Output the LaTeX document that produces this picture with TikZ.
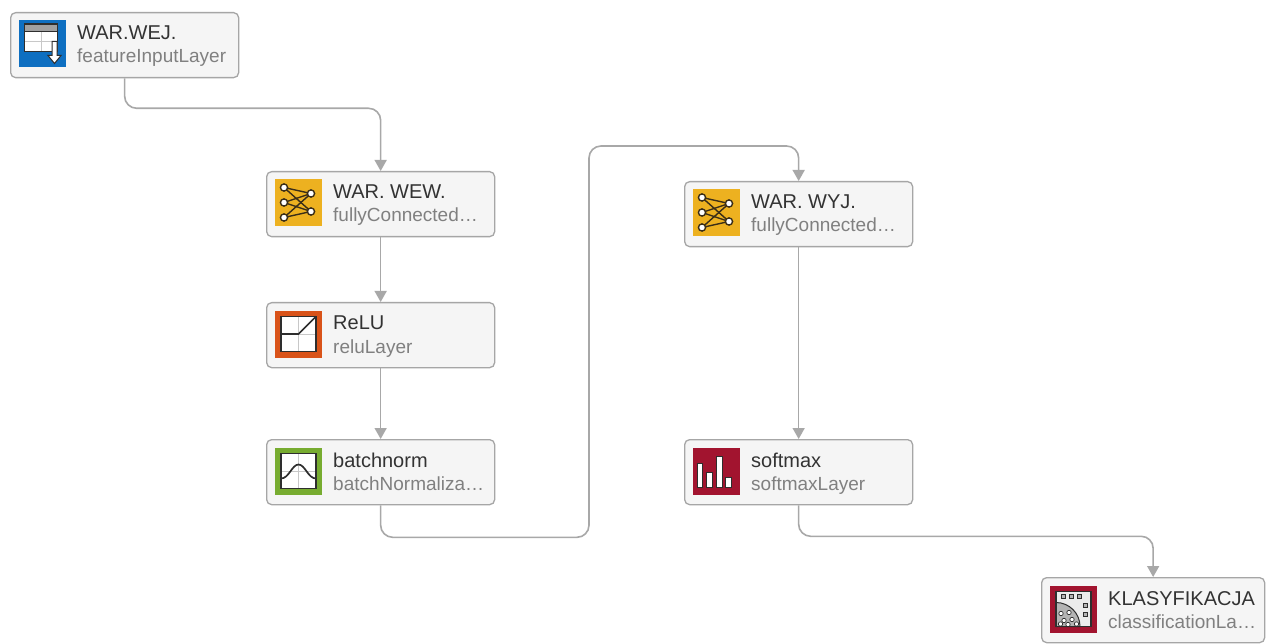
\documentclass[tikz,border=0pt]{standalone}
\usepackage{fontspec}
\setmainfont{Liberation Sans}
\usetikzlibrary{arrows.meta}
\definecolor{boxfill}{HTML}{F5F5F5}
\definecolor{boxline}{HTML}{A6A6A6}
\definecolor{connc}{HTML}{A8A8A8}
\definecolor{titlec}{HTML}{333333}
\definecolor{subc}{HTML}{808080}
\definecolor{iblue}{HTML}{0E6FC1}
\definecolor{iyellow}{HTML}{EDB120}
\definecolor{iorange}{HTML}{D95319}
\definecolor{igreen}{HTML}{77AC30}
\definecolor{ired}{HTML}{A2142F}
\definecolor{icdark}{HTML}{2E2E2E}
\definecolor{gridc}{HTML}{C8C8C8}
\definecolor{hdrgrey}{HTML}{A0A0A0}
\definecolor{netc}{HTML}{3A2E18}
\definecolor{quartc}{HTML}{B4B4B4}
\definecolor{clsbg}{HTML}{ECECEC}
\tikzset{
  layerbox/.style={draw=boxline, fill=boxfill, line width=1.3pt, rounded corners=5pt,
    minimum height=65pt, inner sep=0pt, rectangle},
  titletext/.style={inner sep=0pt, text=titlec, font=\fontsize{20}{22}\selectfont},
  subtext/.style={inner sep=0pt, text=subc, font=\fontsize{19}{21}\selectfont},
  conn/.style={draw=connc, line width=1.6pt, rounded corners=12pt,
    -{Triangle[length=11pt,width=12pt]}},
  lightgrid/.style={draw=gridc, line width=1pt},
  darkline/.style={draw=icdark, line width=1.7pt},
  netline/.style={draw=netc, line width=1.4pt}
}
\newcommand\iconinput{%
  \fill[iblue] (0,0) rectangle (47,47);
  \fill[white] (5.5,3.5) rectangle (38.5,31);
  \fill[hdrgrey] (5.5,3.5) rectangle (38.5,11);
  \draw[lightgrid] (22,11) -- (22,31) (5.5,21.5) -- (38.5,21.5);
  \draw[icdark, line width=1.2pt] (5.5,11) -- (38.5,11);
  \draw[icdark, line width=1.2pt] (5.5,3.5) rectangle (38.5,31);
  \draw[icdark, line width=1pt, fill=white] (33,21) -- (38,21) -- (38,35) -- (42,35) -- (35.5,43) -- (29,35) -- (33,35) -- cycle;
}
\newcommand\iconfc{%
  \fill[iyellow] (0,0) rectangle (47,47);
  \foreach \a in {8,23,38} {\foreach \b in {14,32} {\draw[netline] (9,\a) -- (36,\b);}}
  \foreach \a in {8,23,38} {\draw[netline, fill=white] (9,\a) circle (3.6);}
  \foreach \b in {14,32} {\draw[netline, fill=white] (36,\b) circle (3.6);}
}
\newcommand\iconrelu{%
  \fill[iorange] (0,0) rectangle (47,47);
  \fill[white] (6,6) rectangle (41,41);
  \draw[lightgrid] (23.5,6) -- (23.5,41) (23.5,23.5) -- (41,23.5);
  \draw[darkline] (6,23.5) -- (23.5,23.5) -- (41,6);
  \draw[darkline] (6,6) rectangle (41,41);
}
\newcommand\iconbn{%
  \fill[igreen] (0,0) rectangle (47,47);
  \fill[white] (6,6) rectangle (41,41);
  \draw[lightgrid] (23.5,6) -- (23.5,41) (6,23.5) -- (41,23.5);
  \draw[darkline] (6,31) .. controls (14,31) and (17,17) .. (23.5,17) .. controls (30,17) and (33,31) .. (41,31);
  \draw[darkline] (6,6) rectangle (41,41);
}
\newcommand\iconsm{%
  \fill[ired] (0,0) rectangle (47,47);
  \draw[icdark, line width=0.5pt, fill=white] (4,16) rectangle (9.6,39.5);
  \draw[icdark, line width=0.5pt, fill=white] (13,24.3) rectangle (18.8,39.5);
  \draw[icdark, line width=0.5pt, fill=white] (23,8.7) rectangle (28.8,39.5);
  \draw[icdark, line width=0.5pt, fill=white] (32.4,29.3) rectangle (38,39.5);
}
\newcommand\iconcl{%
  \fill[ired] (0,0) rectangle (47,47);
  \fill[clsbg] (6,6) rectangle (41,41);
  \draw[icdark, line width=1pt, fill=quartc] (6,17) .. controls (19.25,17) and (30,27.75) .. (30,41) -- (6,41) -- cycle;
  \foreach \p in {(13,11),(21,11),(29,11),(35.5,20),(35.5,29)}
    {\draw[icdark, line width=0.6pt, fill=quartc] \p ++(-2,-2) rectangle ++(4,4);}
  \foreach \p in {(11,28),(19,27),(14,35),(22,34),(26.5,38.5),(10.5,38.5),(18,39)}
    {\draw[icdark, line width=0.7pt, fill=white] \p circle (2.2);}
  \draw[darkline] (6,6) rectangle (41,41);
}
\newcommand\mylayer[7]{%
  \node[layerbox, minimum width=#4pt, anchor=north west] (#1) at (#2,#3) {};
  \begin{scope}[shift={(#2+9,#3+8.5)}]
    #7
  \end{scope}
  \node[titletext, anchor=base west] (#1-t) at (#2+67,#3+28) {#5};
  \node[subtext, anchor=base west] (#1-s) at (#2+67,#3+51) {#6};
}
\begin{document}
\begin{tikzpicture}[x=1pt, y=-1pt]
  \useasboundingbox (0,0) rectangle (1266,644);
  \fill[white] (0,0) rectangle (1266,644);
  \mylayer{n1}{10}{12}{228}{WAR.WEJ.}{featureInputLayer}{\iconinput}
  \mylayer{n2}{266}{171}{228}{WAR. WEW.}{fullyConnected…}{\iconfc}
  \mylayer{n3}{266}{302}{228}{ReLU}{reluLayer}{\iconrelu}
  \mylayer{n4}{266}{439}{228}{batchnorm}{batchNormaliza…}{\iconbn}
  \mylayer{n5}{684}{181}{228}{WAR. WYJ.}{fullyConnected…}{\iconfc}
  \mylayer{n6}{684}{439}{228}{softmax}{softmaxLayer}{\iconsm}
  \mylayer{n7}{1041}{577}{223}{KLASYFIKACJA}{classificationLa…}{\iconcl}
  \coordinate (k1) at (589,146);
  \draw[conn] (n1.south) -- ++(0,30) -| (n2.north);
  \draw[conn] (n2.south) -- (n3.north);
  \draw[conn] (n3.south) -- (n4.north);
  \draw[conn] (n4.south) -- ++(0,32) -| (k1) -| (n5.north);
  \draw[conn] (n5.south) -- (n6.north);
  \draw[conn] (n6.south) -- ++(0,31) -| (n7.north);
\end{tikzpicture}
\end{document}
